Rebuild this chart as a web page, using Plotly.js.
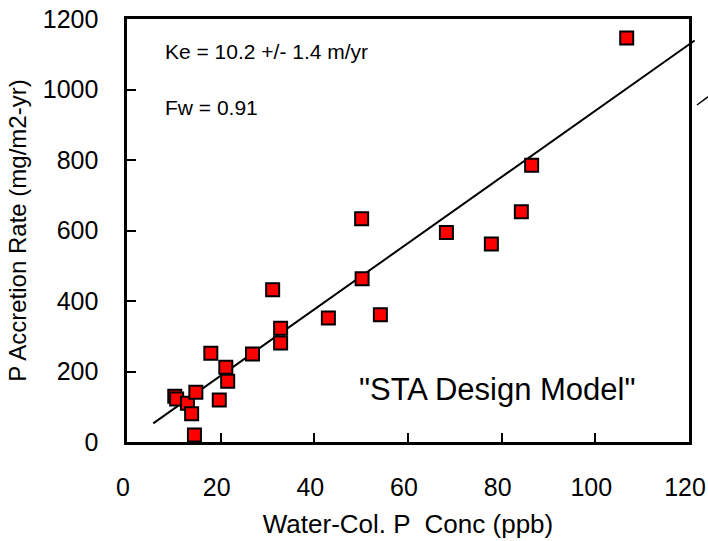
<!DOCTYPE html>
<html>
<head>
<meta charset="utf-8">
<script src="https://cdn.plot.ly/plotly-3.0.1.min.js"></script>
<style>html,body{margin:0;padding:0;background:#fff;}#chart{width:708px;height:541px;}</style>
</head>
<body>
<div id="chart"></div>
<script>
// Observed data: water-column P concentration (ppb) vs P accretion rate (mg/m2-yr)
const waterColP = [10.2, 10.6, 12.9, 14.7, 13.8, 14.4, 17.9, 19.7, 21.1, 21.5, 26.8, 31.1, 32.8, 32.8, 43.0, 50.2, 54.1, 50.1, 68.2, 77.8, 84.2, 86.4, 106.7];
const pAccretion = [130, 122, 110, 141, 80, 20, 252, 119, 212, 172, 250, 432, 323, 281, 352, 463, 361, 633, 594, 562, 653, 785, 1146];

// "STA Design Model" line endpoints
const modelX = [5.6, 121.2];
const modelY = [53, 1139];

// fragment of neighbouring chart's line at the right edge
const fragX = [121.7, 124.1];
const fragY = [956, 980];

const xTicks = [0, 20, 40, 60, 80, 100, 120];
const yTicks = [0, 200, 400, 600, 800, 1000, 1200];

const FONT = 'Liberation Sans, Arial, sans-serif';
const W = 708, H = 541, L = 127, R = 0, T = 19, B = 99;
const plotRightPx = 689; // pixel where x = 120
const xFrameMax = 120;
const yFrameMax = 1200;
const frameFrac = (plotRightPx - L) / (W - L - R);
const xMax = xFrameMax / frameFrac;

const traces = [
  {x: modelX, y: modelY, xaxis: 'x', yaxis: 'y', mode: 'lines', type: 'scatter', line: {color: '#000', width: 2}, hoverinfo: 'skip'},
  {x: fragX, y: fragY, xaxis: 'x', yaxis: 'y', mode: 'lines', type: 'scatter', line: {color: '#000', width: 1.5}, hoverinfo: 'skip'},
  {x: waterColP, y: pAccretion, xaxis: 'x2', yaxis: 'y', mode: 'markers', type: 'scatter',
   marker: {symbol: 'square', size: 13, color: '#FF0000', line: {color: '#000', width: 2}}, cliponaxis: false}
];

const layout = {
  width: W, height: H,
  margin: {l: L, r: R, t: T, b: B, pad: 0},
  paper_bgcolor: '#fff', plot_bgcolor: 'rgba(0,0,0,0)',
  showlegend: false,
  font: {family: FONT, color: '#000'},
  // wide helper axis so the model line can run slightly past the frame
  xaxis: {
    domain: [0, 1], anchor: 'y', range: [0, xMax], visible: false,
    showgrid: false, zeroline: false
  },
  // framed axis carrying the ticks and title
  xaxis2: {
    domain: [0, frameFrac], anchor: 'y', range: [0, xFrameMax],
    tickvals: xTicks, ticktext: xTicks.map(String),
    ticks: 'inside', ticklen: 9, tickwidth: 2, tickcolor: '#000',
    showline: true, mirror: true, linecolor: '#000', linewidth: 2.6,
    showgrid: false, zeroline: false,
    tickfont: {family: FONT, size: 25, color: '#000'},
    ticklabelstandoff: 21, ticklabelshift: -4,
    title: {text: 'Water-Col. P  Conc (ppb)', font: {family: FONT, size: 26, color: '#000'}, standoff: 16}
  },
  yaxis: {
    domain: [0, 1], anchor: 'x2', range: [0, yFrameMax],
    tickvals: yTicks, ticktext: yTicks.map(String),
    ticks: 'inside', ticklen: 9, tickwidth: 2, tickcolor: '#000',
    showline: true, mirror: true, linecolor: '#000', linewidth: 2.6,
    showgrid: false, zeroline: false,
    tickfont: {family: FONT, size: 25, color: '#000'},
    ticklabelstandoff: 21,
    title: {text: 'P Accretion Rate (mg/m2-yr)', font: {family: FONT, size: 24, color: '#000'}, standoff: 10}
  },
  annotations: [
    {xref: 'x2', yref: 'y', x: 7.7, y: 1107, text: 'Ke = 10.2 +/- 1.4 m/yr', showarrow: false, xanchor: 'left', yanchor: 'middle', font: {family: FONT, size: 21, color: '#000'}},
    {xref: 'x2', yref: 'y', x: 7.7, y: 950, text: 'Fw = 0.91', showarrow: false, xanchor: 'left', yanchor: 'middle', font: {family: FONT, size: 21, color: '#000'}},
    {xref: 'x2', yref: 'y', x: 79.1, y: 150, text: '"STA Design Model"', showarrow: false, xanchor: 'center', yanchor: 'middle', font: {family: FONT, size: 31, color: '#000'}}
  ]
};

Plotly.newPlot('chart', traces, layout, {displayModeBar: false, staticPlot: true});
</script>
</body>
</html>
